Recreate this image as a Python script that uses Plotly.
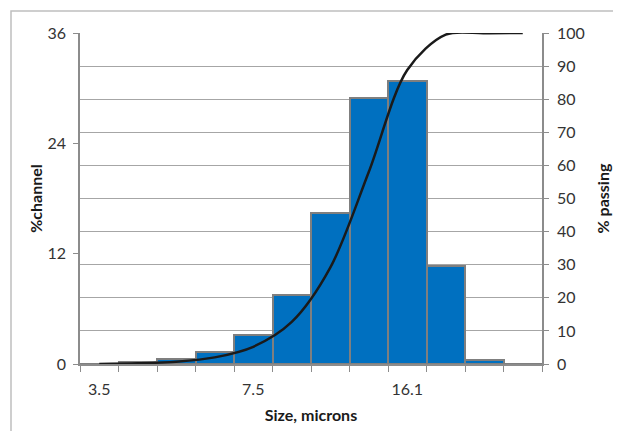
import plotly.graph_objects as go

sizes = ["3.5", "4.2", "5.1", "6.2", "7.5", "9.1", "11.0", "13.3", "16.1", "19.5", "23.6", "28.6"]
channel = [0.0, 0.2, 0.5, 1.3, 3.2, 7.5, 16.4, 28.9, 30.8, 10.7, 0.4, 0.0]
passing = [0.0, 0.2, 0.7, 2.0, 5.2, 12.7, 29.1, 58.0, 88.8, 99.5, 99.9, 100.0]
shown_labels = ["3.5", "7.5", "16.1"]

FONT = "Lato"
ticktext = [s if s in shown_labels else "" for s in sizes]

# page body has an 8px margin: the figure is drawn at (8, 8)
OFF = 8
W, H = 621 - OFF, 431 - OFF
L, T = 80 - OFF, 33 - OFF
PW, PH = 462, 331
R, B = W - L - PW, H - T - PH

fig = go.Figure()
fig.add_trace(go.Bar(
    x=sizes, y=channel, width=1.0,
    marker=dict(color="#0070C0", line=dict(color="#7f7f7f", width=2)),
    yaxis="y", showlegend=False, hoverinfo="skip",
))
fig.add_trace(go.Scatter(
    x=sizes, y=passing, mode="lines",
    line=dict(color="#1a1a1a", width=2.5, shape="spline", smoothing=0.9),
    yaxis="y2", showlegend=False, hoverinfo="skip",
))

tickfont = dict(family=FONT, size=16, color="#333333")
titlefont = dict(family=FONT, size=16, color="#1a1a1a")

fig.update_layout(
    width=W, height=H,
    margin=dict(l=L, r=R, t=T, b=B, autoexpand=False),
    paper_bgcolor="white", plot_bgcolor="white",
    font=dict(family=FONT, size=16, color="#333333"),
    bargap=0,
    xaxis=dict(
        type="category", categoryorder="array", categoryarray=sizes,
        tickmode="array", tickvals=sizes, ticktext=ticktext, tickangle=0,
        tickson="boundaries", ticks="outside", ticklen=6, tickcolor="#8c8c8c",
        ticklabelstandoff=10,
        showline=True, linecolor="#8c8c8c", linewidth=1.5,
        showgrid=False, range=[-0.5, 11.5],
        tickfont=tickfont,
        title=dict(text="<b>Size, microns</b>", font=titlefont, standoff=13),
    ),
    yaxis=dict(
        range=[0, 36], tickmode="array", tickvals=[0, 12, 24, 36],
        ticks="outside", ticklen=5, tickcolor="#8c8c8c",
        ticklabelstandoff=4,
        showline=True, linecolor="#8c8c8c", linewidth=1.5,
        showgrid=False, zeroline=False,
        tickfont=tickfont,
        title=dict(text="<b>%channel</b>", font=titlefont, standoff=1),
    ),
    yaxis2=dict(
        overlaying="y", side="right", range=[0, 100], dtick=10, tick0=0,
        ticks="outside", ticklen=5, tickcolor="#8c8c8c",
        ticklabelstandoff=5,
        showline=True, linecolor="#8c8c8c", linewidth=1.5,
        showgrid=True, gridcolor="#a6a6a6", gridwidth=1, zeroline=False,
        tickfont=tickfont,
        title=dict(text="<b>% passing</b>", font=titlefont, standoff=14),
    ),
    shapes=[dict(
        type="rect", xref="paper", yref="paper",
        x0=(11 - 80) / PW, x1=(640 - 80) / PW,
        y0=(364 - 450) / PH, y1=(364 - 11) / PH,
        line=dict(color="#bfbfbf", width=1.5), fillcolor="rgba(0,0,0,0)", layer="below",
    )],
)

fig.write_html("out.html")
